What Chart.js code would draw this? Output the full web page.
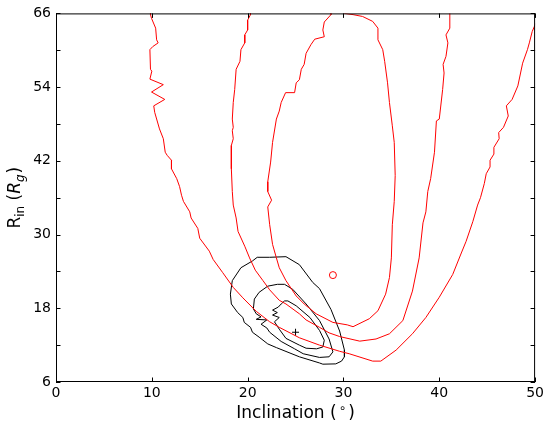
<!DOCTYPE html>
<html>
<head>
<meta charset="utf-8">
<script src="https://cdn.jsdelivr.net/npm/chart.js@4.4.0/dist/chart.umd.min.js"></script>
<style>
body { margin: 0; background: #fff; }
#wrap { width: 547px; height: 425px; }
</style>
</head>
<body>
<div id="wrap"><canvas id="chart"></canvas></div>
<script>
// contour lines, [inclination, Rin] pairs
const redOuter = [[9.86,66.5],[9.86,65.8],[9.97,65.2],[10.4,63.6],[10.5,61.7],[10.66,61.2],[10.1,60.6],[9.8,60.1],[9.86,56.9],[10.0,56.6],[9.8,55.3],[11.2,54.4],[9.97,53.2],[11.35,52.0],[10.2,50.95],[10.3,49.9],[10.8,47.2],[11.2,45.6],[11.4,43.4],[11.6,42.9],[12.05,42.1],[12.05,40.7],[12.6,39.1],[12.9,37.8],[13.1,36.4],[13.3,35.4],[13.96,33.7],[14.1,32.7],[14.8,31.0],[15.0,29.4],[16.0,27.3],[16.4,25.95],[17.4,23.8],[18.5,21.4],[19.5,19.7],[20.9,17.5],[22.3,15.8],[23.3,14.9],[25.4,13.2],[27.5,12.0],[29.6,11.0],[30.6,10.6],[33.05,9.4],[33.9,9.4],[35.5,11.2],[37.2,13.85],[38.6,16.5],[40.0,19.8],[41.4,23.5],[42.3,27.0],[42.8,28.9],[43.5,32.1],[44.0,34.8],[44.3,36.0],[44.7,38.3],[44.9,39.9],[45.3,41.0],[45.3,42.1],[45.7,43.1],[45.7,44.2],[46.25,45.6],[46.2,46.6],[46.7,47.45],[47.2,49.3],[47.0,50.95],[47.6,52.0],[48.2,54.2],[48.7,57.9],[49.2,60.1],[49.4,61.2],[49.7,63.05],[50.07,64.4]];
const redMiddle = [[20.3,66.5],[20.3,65.8],[20.0,64.9],[20.0,63.3],[19.7,62.5],[19.7,61.2],[19.3,60.1],[19.2,58.2],[18.8,56.9],[18.65,53.6],[18.5,51.5],[18.4,48.8],[18.5,47.45],[18.4,46.9],[18.5,45.6],[18.3,44.5],[18.3,40.7],[18.4,37.0],[18.5,34.8],[18.8,32.7],[19.0,30.5],[19.7,28.1],[20.2,26.2],[20.8,24.2],[21.6,22.5],[22.3,21.0],[23.3,19.3],[24.0,18.7],[25.4,17.1],[26.1,16.1],[27.5,14.9],[28.5,14.0],[29.6,13.4],[31.7,12.65],[33.4,13.0],[34.8,13.85],[36.2,16.0],[37.2,20.8],[37.9,26.2],[38.3,31.9],[38.6,33.7],[38.8,37.0],[39.1,39.1],[39.5,43.4],[39.7,48.5],[40.0,48.8],[40.35,53.6],[40.5,56.3],[40.4,57.7],[40.7,59.0],[40.9,61.2],[40.7,62.5],[41.1,63.6],[41.1,66.5]];
const redInner = [[28.7,66.5],[28.7,65.8],[28.0,64.6],[27.85,63.3],[28.0,62.2],[27.0,61.8],[26.6,60.9],[26.1,59.5],[25.9,57.7],[25.6,56.9],[25.4,55.2],[25.07,54.7],[24.9,53.1],[23.96,53.1],[23.5,51.5],[23.3,50.1],[23.0,48.8],[22.6,45.0],[22.4,41.8],[22.1,38.6],[22.1,37.0],[22.5,35.6],[22.1,34.5],[22.3,31.6],[22.6,28.4],[23.0,26.2],[23.3,24.6],[24.0,22.5],[25.07,20.0],[25.9,18.7],[27.15,17.1],[28.9,15.7],[30.4,15.3],[31.0,15.0],[32.7,16.3],[33.6,17.6],[34.4,20.3],[34.8,23.0],[35.0,26.2],[35.1,31.6],[35.3,35.4],[35.4,39.6],[35.3,45.0],[35.1,47.7],[34.8,51.5],[34.6,54.7],[34.3,58.2],[34.1,60.1],[33.6,61.7],[33.6,63.6],[33.05,64.7],[32.0,65.5],[31.0,65.8],[30.1,66.0],[29.8,66.5]];
const blackOuter = [[21.0,26.3],[22.3,26.3],[24.0,26.4],[25.4,25.1],[26.8,22.2],[27.5,21.2],[28.7,17.8],[29.6,14.3],[30.1,11.2],[30.1,10.1],[29.8,9.4],[29.2,8.95],[27.85,8.9],[27.5,9.1],[25.4,10.1],[23.0,11.6],[22.1,12.2],[21.2,13.3],[20.5,14.1],[20.3,14.9],[19.65,15.7],[19.5,16.5],[18.96,17.3],[18.3,18.7],[18.2,20.3],[18.4,22.5],[19.3,24.6],[20.5,25.7],[21.0,26.3]];
const blackMiddle = [[22.1,21.6],[23.1,21.9],[23.85,21.9],[24.7,21.1],[26.1,18.7],[27.5,16.0],[28.5,13.0],[28.9,10.9],[28.5,10.1],[27.5,10.0],[25.8,10.6],[24.9,11.4],[23.5,12.6],[22.3,14.1],[22.0,14.8],[21.4,15.4],[22.0,16.1],[20.9,16.2],[21.4,16.6],[20.9,17.1],[20.6,17.9],[20.7,19.5],[21.2,20.6],[22.1,21.6]];
const blackInner = [[24.2,19.2],[25.07,18.4],[26.5,16.5],[27.5,14.4],[28.0,12.8],[27.85,11.7],[27.2,11.4],[26.1,11.5],[25.4,12.0],[24.0,13.1],[23.3,14.6],[22.8,15.8],[23.3,16.5],[22.6,16.9],[23.1,17.3],[22.6,17.7],[23.2,18.2],[23.5,18.7],[23.85,19.2],[24.2,19.2]];
const bestFit = [[25.0, 14.1]];
const altFit = [[28.9, 23.4]];
const yTickLabels = [6, 18, 30, 42, 54, 66];

const toPoints = (arr) => arr.map((p) => ({ x: p[0], y: p[1] }));

function contour(arr, color) {
    return {
        data: toPoints(arr),
        showLine: true,
        borderColor: color,
        borderWidth: 1,
        pointRadius: 0,
        fill: false,
    };
}

function drawPieces(ctx, pieces, x, y) {
    let total = 0;
    pieces.forEach((p) => { ctx.font = p[1]; total += ctx.measureText(p[0]).width + (p[3] || 0); });
    let cx = x - total / 2;
    pieces.forEach((p) => {
        ctx.font = p[1];
        ctx.fillText(p[0], cx, y + p[2]);
        cx += ctx.measureText(p[0]).width + (p[3] || 0);
    });
}

const frame = {
    id: "frame",
    afterDraw(chart) {
        const ctx = chart.ctx;
        const a = chart.chartArea;
        ctx.save();
        ctx.strokeStyle = "#000";
        ctx.lineWidth = 1;
        ctx.strokeRect(a.left + 0.5, a.top + 0.5, a.right - a.left - 1, a.bottom - a.top - 1);
        const len = 4.5;
        ctx.beginPath();
        chart.scales.x.ticks.forEach((t) => {
            const px = Math.round(chart.scales.x.getPixelForValue(t.value)) + 0.5;
            ctx.moveTo(px, a.bottom); ctx.lineTo(px, a.bottom - len);
            ctx.moveTo(px, a.top); ctx.lineTo(px, a.top + len);
        });
        chart.scales.y.ticks.forEach((t) => {
            const py = Math.round(chart.scales.y.getPixelForValue(t.value)) + 0.5;
            ctx.moveTo(a.left, py); ctx.lineTo(a.left + len, py);
            ctx.moveTo(a.right, py); ctx.lineTo(a.right - len, py);
        });
        ctx.stroke();

        ctx.fillStyle = "#000";
        ctx.textBaseline = "alphabetic";
        const f = "17px 'DejaVu Sans'";
        const fs = "12px 'DejaVu Sans'";
        drawPieces(ctx, [["Inclination (", f, 0, 2], ["\u2218", fs, -6, 2], [")", f, 0]], (a.left + a.right) / 2, 418);

        ctx.translate(20, (a.top + a.bottom) / 2);
        ctx.rotate(-Math.PI / 2);
        drawPieces(ctx, [
            ["R", f, 0],
            ["in", fs, 4],
            [" (", f, 0],
            ["R", "oblique 17px 'DejaVu Sans'", 0],
            ["g", "oblique 12px 'DejaVu Sans'", 4, 1],
            [")", f, 0],
        ], 0, 0);
        ctx.restore();
    },
};

new Chart(document.getElementById("chart"), {
    type: "scatter",
    data: {
        datasets: [
            contour(redOuter, "#ff0000"),
            contour(redMiddle, "#ff0000"),
            contour(redInner, "#ff0000"),
            contour(blackOuter, "#000000"),
            contour(blackMiddle, "#000000"),
            contour(blackInner, "#000000"),
            {
                data: toPoints(altFit),
                pointStyle: "circle",
                pointRadius: 3.5,
                borderColor: "#ff0000",
                backgroundColor: "rgba(0,0,0,0)",
                borderWidth: 1,
            },
            {
                data: toPoints(bestFit),
                pointStyle: "cross",
                pointRadius: 3.5,
                borderColor: "#000000",
                borderWidth: 1,
            },
        ],
    },
    options: {
        responsive: true,
        maintainAspectRatio: false,
        animation: false,
        layout: { padding: { top: 10, right: 11, left: 0, bottom: 0 } },
        plugins: { legend: { display: false }, tooltip: { enabled: false } },
        scales: {
            x: {
                min: 0,
                max: 50,
                afterFit: (s) => { s.height = 43; },
                grid: { display: false, drawTicks: false },
                border: { display: false },
                ticks: { stepSize: 10, padding: 3, color: "#000", font: { family: "DejaVu Sans", size: 14 } },
            },
            y: {
                min: 6,
                max: 66,
                afterFit: (s) => { s.width = 56; },
                grid: { display: false, drawTicks: false },
                border: { display: false },
                ticks: {
                    stepSize: 6,
                    padding: 5,
                    color: "#000",
                    font: { family: "DejaVu Sans", size: 14 },
                    callback: (v) => (yTickLabels.includes(v) ? v : ""),
                },
            },
        },
    },
    plugins: [frame],
});
</script>
</body>
</html>
